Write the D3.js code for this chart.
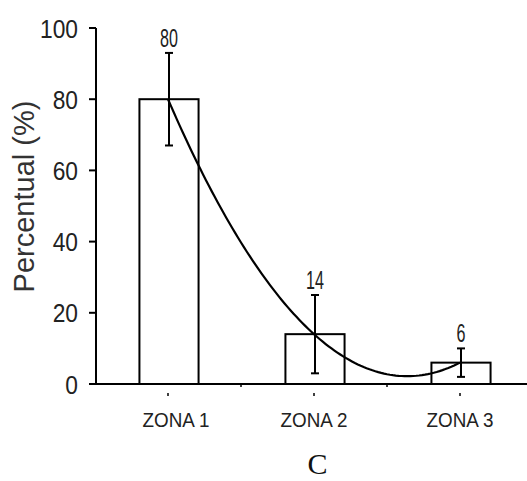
<!DOCTYPE html>
<html>
<head>
<meta charset="utf-8">
<script src="https://cdn.jsdelivr.net/npm/d3@7"></script>
<style>
  html, body { margin: 0; padding: 0; background: #fff; }
  svg { display: block; }
</style>
</head>
<body>
<script>
const categories = ["ZONA 1", "ZONA 2", "ZONA 3"];
const values = [80, 14, 6];
const errors = [13, 11, 4];
const yTicks = [0, 20, 40, 60, 80, 100];
const yTitle = "Percentual (%)";
const panelLabel = "C";

const W = 527, H = 481;
const svg = d3.select("body").append("svg").attr("width", W).attr("height", H);

const x = d3.scaleBand().domain(categories).range([95, 533]).padding(0);
const y = d3.scaleLinear().domain([0, 100]).range([384, 28]);
const cx = c => x(c) + x.bandwidth() / 2;
const barW = x.bandwidth() * 0.405;
const axisX = 96;
const sansFont = "'Liberation Sans', Arial, sans-serif";

// Y axis
svg.append("line").attr("x1", axisX).attr("x2", axisX).attr("y1", y(100)).attr("y2", y(0))
  .attr("stroke", "#000").attr("stroke-width", 2);
svg.selectAll(".yt").data(yTicks).enter().append("line")
  .attr("x1", axisX - 7).attr("x2", axisX).attr("y1", d => y(d)).attr("y2", d => y(d))
  .attr("stroke", "#000").attr("stroke-width", 2);
svg.selectAll(".yl").data(yTicks).enter().append("text")
  .attr("transform", d => `translate(78, ${y(d)}) scale(0.86,1)`)
  .attr("dy", "0.36em")
  .attr("text-anchor", "end")
  .style("font-family", sansFont)
  .style("font-size", "26.5px").attr("fill", "#222")
  .text(d => d);

// Y title
svg.append("text")
  .attr("transform", `translate(34, ${(100 + 293) / 2}) rotate(-90)`)
  .attr("text-anchor", "middle")
  .style("font-family", sansFont)
  .style("font-size", "29px").attr("fill", "#333")
  .text(yTitle);

// X axis
svg.append("line").attr("x1", axisX - 7).attr("x2", W).attr("y1", y(0)).attr("y2", y(0))
  .attr("stroke", "#000").attr("stroke-width", 2);
// boundary ticks
const bounds = categories.slice(1).map(c => x(c));
svg.selectAll(".bt").data(bounds).enter().append("line")
  .attr("x1", d => d).attr("x2", d => d).attr("y1", y(0)).attr("y2", y(0) + 3)
  .attr("stroke", "#000").attr("stroke-width", 1.5);
// category ticks (small detached dots)
svg.selectAll(".ct").data(categories).enter().append("line")
  .attr("x1", d => cx(d)).attr("x2", d => cx(d)).attr("y1", y(0) + 9).attr("y2", y(0) + 12)
  .attr("stroke", "#000").attr("stroke-width", 1.5);
svg.selectAll(".xl").data(categories).enter().append("text")
  .attr("transform", (d, i) => `translate(${cx(d) + (i === 0 ? 8 : 0)}, 427) scale(0.92,1)`)
  .attr("text-anchor", "middle")
  .style("font-family", sansFont)
  .style("font-size", "20.5px").attr("fill", "#222")
  .text(d => d);

// Bars
svg.selectAll(".bar").data(categories).enter().append("rect")
  .attr("x", d => cx(d) - barW / 2 + 1)
  .attr("y", (d, i) => y(values[i]))
  .attr("width", barW)
  .attr("height", (d, i) => y(0) - y(values[i]))
  .attr("fill", "#fff").attr("stroke", "#000").attr("stroke-width", 2);

// Quadratic trend through the bar values (fit computed from data)
const xs = categories.map((c, i) => i + 1);
function quad(t) {
  let s = 0;
  for (let i = 0; i < 3; i++) {
    let l = 1;
    for (let j = 0; j < 3; j++) if (j !== i) l *= (t - xs[j]) / (xs[i] - xs[j]);
    s += values[i] * l;
  }
  return s;
}
const step = x.step();
const samples = d3.range(0, 101).map(k => 1 + 2 * k / 100);
const line = d3.line()
  .x(t => cx(categories[0]) + (t - 1) * step)
  .y(t => y(quad(t)))
  .curve(d3.curveLinear);
svg.append("path").datum(samples).attr("d", line)
  .attr("fill", "none").attr("stroke", "#000").attr("stroke-width", 2.2);

// Error bars
const eb = svg.selectAll(".eb").data(categories).enter().append("g");
eb.append("line")
  .attr("x1", d => cx(d) + 1).attr("x2", d => cx(d) + 1)
  .attr("y1", (d, i) => y(values[i] + errors[i])).attr("y2", (d, i) => y(values[i] - errors[i]))
  .attr("stroke", "#000").attr("stroke-width", 2);
eb.append("line")
  .attr("x1", d => cx(d) - 3).attr("x2", d => cx(d) + 5)
  .attr("y1", (d, i) => y(values[i] + errors[i])).attr("y2", (d, i) => y(values[i] + errors[i]))
  .attr("stroke", "#000").attr("stroke-width", 2);
eb.append("line")
  .attr("x1", d => cx(d) - 3).attr("x2", d => cx(d) + 5)
  .attr("y1", (d, i) => y(values[i] - errors[i])).attr("y2", (d, i) => y(values[i] - errors[i]))
  .attr("stroke", "#000").attr("stroke-width", 2);

// Value labels
svg.selectAll(".vl").data(categories).enter().append("text")
  .attr("transform", (d, i) => `translate(${cx(d) + 1}, ${y(values[i] + errors[i]) - 6}) scale(0.62,1)`)
  .attr("text-anchor", "middle")
  .style("font-family", sansFont)
  .style("font-size", "26px").attr("fill", "#222")
  .text((d, i) => values[i]);

// Panel label
svg.append("text")
  .attr("x", 317.5).attr("y", 474)
  .attr("text-anchor", "middle")
  .style("font-family", "'Liberation Serif', 'Times New Roman', serif")
  .style("font-size", "30px").attr("fill", "#111")
  .text(panelLabel);
</script>
</body>
</html>
